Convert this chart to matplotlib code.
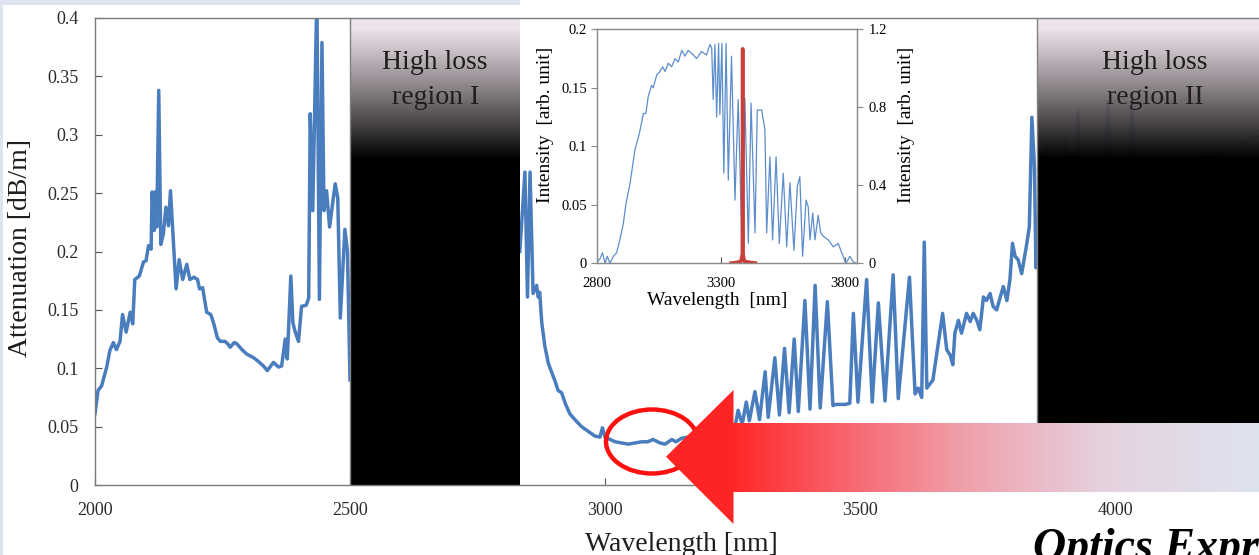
import numpy as np
import matplotlib
matplotlib.use("Agg")
import matplotlib.pyplot as plt
from matplotlib.patches import Polygon, Ellipse, Rectangle

plt.rcParams['font.family'] = ['Liberation Serif', 'DejaVu Serif']

# ---------------- data ----------------
# attenuation below high-loss region I
wl_a = [2000, 2006, 2013, 2023, 2029, 2036, 2042, 2049, 2054, 2061,
        2069, 2074, 2078, 2087, 2095, 2100, 2105, 2110, 2112, 2116,
        2118, 2121, 2125, 2129, 2134, 2139, 2144, 2148, 2154, 2159,
        2165, 2172, 2180, 2186, 2194, 2201, 2205, 2211, 2219, 2227,
        2233, 2240, 2246, 2255, 2260, 2265, 2273, 2278, 2288, 2298,
        2311, 2320, 2330, 2338, 2350, 2360, 2366, 2373, 2377, 2384,
        2388, 2392, 2399, 2405, 2414, 2419, 2422, 2427, 2435, 2440,
        2445, 2449, 2454, 2460, 2471, 2476, 2481, 2490, 2495, 2500]
att_a = [0.061, 0.081, 0.085, 0.101, 0.115, 0.122, 0.116, 0.123, 0.146, 0.131,
         0.148, 0.138, 0.176, 0.179, 0.191, 0.192, 0.205, 0.202, 0.251, 0.218,
         0.251, 0.221, 0.338, 0.206, 0.215, 0.238, 0.222, 0.252, 0.206, 0.168,
         0.193, 0.176, 0.189, 0.176, 0.178, 0.176, 0.168, 0.169, 0.148, 0.146,
         0.138, 0.126, 0.123, 0.123, 0.121, 0.118, 0.122, 0.121, 0.116, 0.112,
         0.109, 0.106, 0.102, 0.098, 0.105, 0.101, 0.102, 0.125, 0.108, 0.179,
         0.139, 0.132, 0.123, 0.153, 0.154, 0.160, 0.318, 0.235, 0.420, 0.159,
         0.379, 0.235, 0.252, 0.221, 0.258, 0.246, 0.143, 0.219, 0.200, 0.090]

# attenuation between region I and region II
wl_b = [2833, 2843, 2848, 2853, 2859, 2866, 2869, 2872, 2876, 2882,
        2889, 2896, 2902, 2908, 2915, 2922, 2931, 2941, 2954, 2967,
        2980, 2990, 2995, 3000, 3010, 3020, 3033, 3046, 3059, 3072,
        3084, 3094, 3108, 3118, 3131, 3139, 3150, 3177, 3196, 3210,
        3226, 3241, 3255, 3261, 3269, 3277, 3283, 3294, 3303, 3314,
        3320, 3333, 3342, 3352, 3361, 3371, 3379, 3392, 3402, 3412,
        3422, 3436, 3447, 3453, 3471, 3480, 3487, 3496, 3513, 3524,
        3536, 3549, 3565, 3575, 3597, 3608, 3614, 3621, 3626, 3631,
        3643, 3662, 3670, 3677, 3682, 3686, 3693, 3699, 3709, 3716,
        3722, 3729, 3735, 3742, 3748, 3755, 3761, 3768, 3775, 3781,
        3788, 3794, 3799, 3804, 3810, 3817, 3826, 3832, 3837, 3842,
        3845, 3847]
att_b = [0.200, 0.268, 0.161, 0.268, 0.164, 0.171, 0.161, 0.165, 0.139, 0.119,
         0.104, 0.096, 0.089, 0.081, 0.079, 0.070, 0.061, 0.056, 0.050, 0.046,
         0.042, 0.041, 0.049, 0.041, 0.039, 0.037, 0.036, 0.035, 0.036, 0.037,
         0.037, 0.039, 0.036, 0.035, 0.039, 0.037, 0.040, 0.042, 0.045, 0.047,
         0.046, 0.052, 0.050, 0.064, 0.052, 0.071, 0.055, 0.080, 0.056, 0.097,
         0.058, 0.109, 0.060, 0.117, 0.062, 0.125, 0.063, 0.158, 0.065, 0.171,
         0.066, 0.157, 0.068, 0.069, 0.069, 0.070, 0.147, 0.071, 0.176, 0.071,
         0.156, 0.072, 0.180, 0.074, 0.178, 0.078, 0.083, 0.075, 0.208, 0.083,
         0.090, 0.147, 0.116, 0.111, 0.103, 0.130, 0.141, 0.130, 0.147, 0.140,
         0.147, 0.141, 0.133, 0.161, 0.158, 0.164, 0.153, 0.150, 0.161, 0.170,
         0.158, 0.176, 0.207, 0.196, 0.193, 0.181, 0.204, 0.221, 0.315, 0.273,
         0.186, 0.220]

# attenuation inside high-loss region II (mostly hidden)
wl_c = [3850, 3860, 3866, 3871, 3898, 3905, 3911, 3922, 3927, 3933,
        3978, 3986, 3993, 4026, 4033, 4040, 4100, 4180, 4290]
att_c = [0.230, 0.240, 0.293, 0.235, 0.245, 0.300, 0.245, 0.250, 0.320, 0.250,
         0.255, 0.328, 0.255, 0.260, 0.324, 0.260, 0.270, 0.280, 0.300]

# inset: supercontinuum source spectrum (left axis)
wl_src = [2800, 2811, 2821, 2831, 2840, 2851, 2865, 2878, 2891, 2905,
          2916, 2932, 2952, 2970, 2986, 2996, 3006, 3019, 3026, 3040,
          3053, 3064, 3073, 3087, 3100, 3114, 3127, 3141, 3154, 3167,
          3188, 3201, 3221, 3241, 3255, 3262, 3268, 3275, 3282, 3290,
          3295, 3303, 3311, 3320, 3329, 3342, 3356, 3369, 3383, 3396,
          3410, 3421, 3437, 3446, 3464, 3477, 3484, 3497, 3508, 3522,
          3535, 3551, 3565, 3578, 3594, 3608, 3618, 3629, 3643, 3652,
          3659, 3670, 3679, 3692, 3702, 3713, 3733, 3753, 3773, 3787,
          3804, 3820, 3834, 3847]
int_src = [0.001, 0.004, 0.009, 0.000, 0.006, 0.000, 0.006, 0.009, 0.020, 0.034,
           0.051, 0.068, 0.097, 0.111, 0.128, 0.128, 0.143, 0.152, 0.150, 0.161,
           0.164, 0.168, 0.164, 0.171, 0.168, 0.175, 0.172, 0.182, 0.177, 0.182,
           0.178, 0.175, 0.181, 0.178, 0.187, 0.184, 0.140, 0.187, 0.125, 0.188,
           0.127, 0.188, 0.077, 0.188, 0.071, 0.177, 0.054, 0.140, 0.026, 0.141,
           0.017, 0.137, 0.026, 0.131, 0.131, 0.114, 0.026, 0.091, 0.020, 0.091,
           0.017, 0.077, 0.014, 0.069, 0.011, 0.066, 0.074, 0.006, 0.054, 0.048,
           0.020, 0.043, 0.020, 0.041, 0.026, 0.023, 0.020, 0.014, 0.017, 0.009,
           0.000, 0.006, 0.001, 0.000]

# inset: laser line (right axis)
wl_laser = [3333, 3360, 3380, 3386, 3387, 3388, 3394, 3420, 3446]
int_laser = [0.0, 0.004, 0.01, 0.05, 1.10, 0.05, 0.01, 0.004, 0.0]

x_ticks = [2000, 2500, 3000, 3500, 4000]
y_ticks = [0, 0.05, 0.1, 0.15, 0.2, 0.25, 0.3, 0.35, 0.4]
y_ticklabels = ['0', '0.05', '0.1', '0.15', '0.2', '0.25', '0.3', '0.35', '0.4']
in_x_ticks = [2800, 3300, 3800]
in_yl_ticks = [0, 0.05, 0.1, 0.15, 0.2]
in_yl_labels = ['0', '0.05', '0.1', '0.15', '0.2']
in_yr_ticks = [0, 0.4, 0.8, 1.2]
in_yr_labels = ['0', '0.4', '0.8', '1.2']

regions = [(2500, 2833, 'High loss\nregion I', 2667),
           (3847, 4300, 'High loss\nregion II', 4078)]

# ---------------- figure ----------------
W, H = 1259, 555
fig = plt.figure(figsize=(W / 100, H / 100), dpi=100)
fig.patch.set_facecolor('white')


def fx(px):
    return px / W


def fy(py):
    return 1 - py / H


SPINE = '#7a7a7a'
BLUE = '#4a7dbd'

ax = fig.add_axes([fx(95), fy(485), (W - 95) / W, (485 - 18) / H])
ax.plot(wl_a, att_a, color=BLUE, lw=2.5, zorder=2, solid_joinstyle='round')
ax.plot(wl_b + wl_c, att_b + att_c, color=BLUE, lw=2.5, zorder=2,
        solid_joinstyle='round')

# gradient "high loss" regions
ys = np.linspace(0.4, 0.0, 400)
t = np.clip((0.392 - ys) / 0.112, 0, 1)
top = np.array([0.93, 0.875, 0.91])
rgb = top[None, :] * (1 - t[:, None])
alpha = np.where(t < 1, 0.86 + 0.14 * t, 1.0)
grad = np.concatenate([rgb, alpha[:, None]], axis=1)[:, None, :]
for x0, x1, label, xc in regions:
    ax.imshow(grad, extent=[x0, x1, 0, 0.4], origin='upper', aspect='auto',
              interpolation='bilinear', zorder=3)
    ax.axvline(x0, color='#808080', lw=1.0, zorder=3.5)
    ax.text(xc, 0.347, label, ha='center', va='center', fontsize=20,
            color='#1e1e1e', linespacing=1.5, zorder=4)

ax.set_xlim(2000, 2000 + (W - 95) * 500 / 255)
ax.set_ylim(0, 0.4)
ax.set_xticks(x_ticks)
ax.set_xticklabels([str(v) for v in x_ticks])
ax.set_yticks(y_ticks)
ax.set_yticklabels(y_ticklabels)
ax.tick_params(direction='in', length=5, width=0.8, color='#555555',
               labelsize=13, labelcolor='#2a2a2a', pad=12)
ax.tick_params(axis='x', top=False)
ax.tick_params(axis='y', right=False)
for s in ['left', 'bottom', 'top']:
    ax.spines[s].set_color(SPINE)
    ax.spines[s].set_linewidth(1.0)
    ax.spines[s].set_zorder(5)
ax.spines['right'].set_visible(False)
ax.set_xlabel('Wavelength [nm]', fontsize=20, color='#1e1e1e', va='top')
ax.xaxis.set_label_coords((681 - 95) / (W - 95), (485 - 532) / 467)
ax.set_ylabel('Attenuation [dB/m]', fontsize=20, color='#1e1e1e', va='center')
ax.yaxis.set_label_coords((20 - 95) / (W - 95), (485 - 248) / 467)

# ---------------- inset ----------------
axi = fig.add_axes([fx(597.3), fy(263.3), 260 / W, 234 / H])
axi.plot(wl_src, int_src, color='#5c8dcc', lw=0.9)
axi.set_xlim(2800, 3850)
axi.set_ylim(0, 0.2)
axi.set_xticks(in_x_ticks)
axi.set_xticklabels([str(v) for v in in_x_ticks])
axi.set_yticks(in_yl_ticks)
axi.set_yticklabels(in_yl_labels)
axi.tick_params(axis='y', direction='out', length=4, width=0.8, color='#888888',
                labelsize=10.5, pad=3.5)
axi.tick_params(axis='x', direction='in', length=4, width=0.8, color='#555555',
                labelsize=10.5, pad=10)
for s in axi.spines.values():
    s.set_color('#8c8c8c')
    s.set_linewidth(0.9)
axi.set_ylabel('Intensity  [arb. unit]', fontsize=14, va='center')
axi.yaxis.set_label_coords(-0.201, 0.591)
axi.set_xlabel('Wavelength  [nm]', fontsize=14, va='center')
axi.xaxis.set_label_coords(0.462, -0.157)

axr = axi.twinx()
axr.plot(wl_laser, int_laser, color='#c8403c', lw=2.6, solid_capstyle='butt')
axr.set_ylim(0, 1.2)
axr.set_yticks(in_yr_ticks)
axr.set_yticklabels(in_yr_labels)
axr.tick_params(axis='y', direction='out', length=4, width=0.8, color='#888888',
                labelsize=10.5, pad=4)
for s in axr.spines.values():
    s.set_color('#8c8c8c')
    s.set_linewidth(0.9)
axr.set_ylabel('Intensity  [arb. unit]', fontsize=14, rotation=90, va='center')
axr.yaxis.set_label_coords(1.191, 0.591)

# ---------------- overlay annotations ----------------
ov = fig.add_axes([0, 0, 1, 1], zorder=10)
ov.patch.set_alpha(0)
ov.axis('off')

# light slide background strips
ov.add_patch(Rectangle((0, 0), 3.5, H, color='#dde4f0', lw=0))
ov.add_patch(Rectangle((0, 0), 520, 5, color='#dde4f0', lw=0))

# arrow shaft gradient
stops_x = [733, 850, 960, 1100, 1259]
stops_c = np.array([[1.0, 0.15, 0.15], [0.97, 0.40, 0.44], [0.94, 0.62, 0.66],
                    [0.90, 0.82, 0.87], [0.87, 0.89, 0.94]])
xs = np.linspace(733, 1259, 600)
shaft = np.stack([np.interp(xs, stops_x, stops_c[:, k]) for k in range(3)], axis=1)
ov.imshow(shaft[None, :, :], extent=[732, 1259, 491.7, 423.3], aspect='auto',
          interpolation='bilinear', zorder=2)
ov.add_patch(Ellipse((652, 441.5), 92, 64, fill=False, ec='#ff1010', lw=3.2,
                     zorder=1))
ov.add_patch(Polygon([(666, 456.7), (733.5, 390), (733.5, 524)], closed=True,
                     fc='#ff2424', ec='none', zorder=3))
ov.text(1033, 560, 'Optics Express', fontsize=33, fontweight='bold',
        fontstyle='italic', ha='left', va='baseline', color='black',
        clip_on=False, zorder=4)
ov.set_xlim(0, W)
ov.set_ylim(H, 0)

fig.savefig('out.png', dpi=100)
